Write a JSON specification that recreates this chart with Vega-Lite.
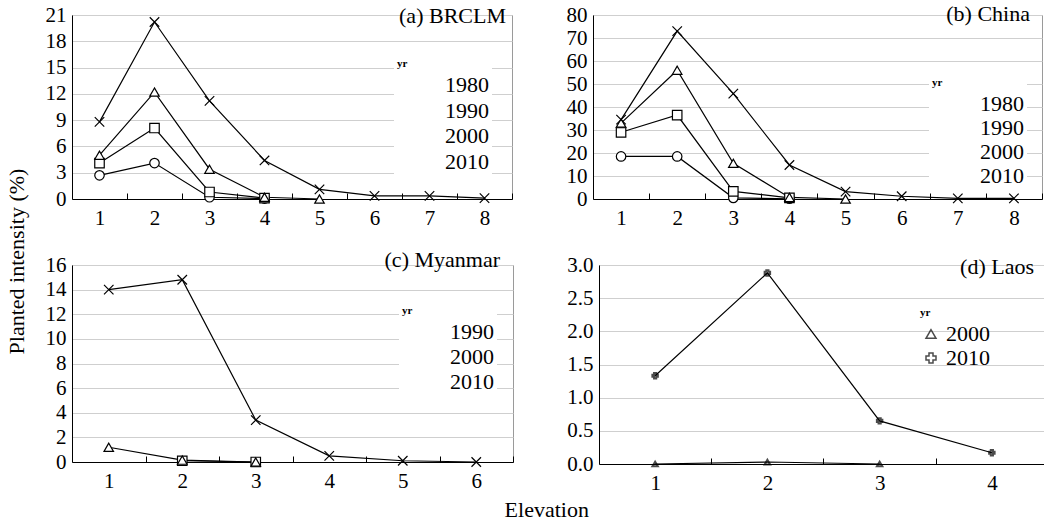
{
  "$schema": "https://vega.github.io/schema/vega-lite/v6.json",
  "padding": {"left": 5, "top": 2, "right": 2, "bottom": 2},
  "background": "white",
  "title": {"text": "Planted intensity (%)", "orient": "left", "anchor": "middle", "offset": 16},
  "data": {"values": [
    {"p": "a", "yr": "1980", "e": 1, "v": 2.7}, {"p": "a", "yr": "1980", "e": 2, "v": 4.1}, {"p": "a", "yr": "1980", "e": 3, "v": 0.2}, {"p": "a", "yr": "1980", "e": 4, "v": 0.05},
    {"p": "a", "yr": "1990", "e": 1, "v": 4.1}, {"p": "a", "yr": "1990", "e": 2, "v": 8.1}, {"p": "a", "yr": "1990", "e": 3, "v": 0.8}, {"p": "a", "yr": "1990", "e": 4, "v": 0.1},
    {"p": "a", "yr": "2000", "e": 1, "v": 5.0}, {"p": "a", "yr": "2000", "e": 2, "v": 12.2}, {"p": "a", "yr": "2000", "e": 3, "v": 3.4}, {"p": "a", "yr": "2000", "e": 4, "v": 0.2}, {"p": "a", "yr": "2000", "e": 5, "v": 0.0},
    {"p": "a", "yr": "2010", "e": 1, "v": 8.8}, {"p": "a", "yr": "2010", "e": 2, "v": 20.2}, {"p": "a", "yr": "2010", "e": 3, "v": 11.2}, {"p": "a", "yr": "2010", "e": 4, "v": 4.4}, {"p": "a", "yr": "2010", "e": 5, "v": 1.1}, {"p": "a", "yr": "2010", "e": 6, "v": 0.35}, {"p": "a", "yr": "2010", "e": 7, "v": 0.35}, {"p": "a", "yr": "2010", "e": 8, "v": 0.1},
    {"p": "b", "yr": "1980", "e": 1, "v": 18.5}, {"p": "b", "yr": "1980", "e": 2, "v": 18.5}, {"p": "b", "yr": "1980", "e": 3, "v": 0.5}, {"p": "b", "yr": "1980", "e": 4, "v": 0.1},
    {"p": "b", "yr": "1990", "e": 1, "v": 29}, {"p": "b", "yr": "1990", "e": 2, "v": 36.5}, {"p": "b", "yr": "1990", "e": 3, "v": 3.3}, {"p": "b", "yr": "1990", "e": 4, "v": 0.5},
    {"p": "b", "yr": "2000", "e": 1, "v": 33}, {"p": "b", "yr": "2000", "e": 2, "v": 56}, {"p": "b", "yr": "2000", "e": 3, "v": 15.5}, {"p": "b", "yr": "2000", "e": 4, "v": 0.7}, {"p": "b", "yr": "2000", "e": 5, "v": 0},
    {"p": "b", "yr": "2010", "e": 1, "v": 34.5}, {"p": "b", "yr": "2010", "e": 2, "v": 73}, {"p": "b", "yr": "2010", "e": 3, "v": 45.8}, {"p": "b", "yr": "2010", "e": 4, "v": 14.8}, {"p": "b", "yr": "2010", "e": 5, "v": 3.2}, {"p": "b", "yr": "2010", "e": 6, "v": 1.2}, {"p": "b", "yr": "2010", "e": 7, "v": 0.3}, {"p": "b", "yr": "2010", "e": 8, "v": 0.3},
    {"p": "c", "yr": "1990", "e": 2, "v": 0.1}, {"p": "c", "yr": "1990", "e": 3, "v": 0.0},
    {"p": "c", "yr": "2000", "e": 1, "v": 1.2}, {"p": "c", "yr": "2000", "e": 2, "v": 0.15}, {"p": "c", "yr": "2000", "e": 3, "v": 0.0},
    {"p": "c", "yr": "2010", "e": 1, "v": 14.0}, {"p": "c", "yr": "2010", "e": 2, "v": 14.8}, {"p": "c", "yr": "2010", "e": 3, "v": 3.4}, {"p": "c", "yr": "2010", "e": 4, "v": 0.5}, {"p": "c", "yr": "2010", "e": 5, "v": 0.1}, {"p": "c", "yr": "2010", "e": 6, "v": 0.0},
    {"p": "d", "yr": "2000", "e": 1, "v": 0.0}, {"p": "d", "yr": "2000", "e": 2, "v": 0.03}, {"p": "d", "yr": "2000", "e": 3, "v": 0.0},
    {"p": "d", "yr": "2010", "e": 1, "v": 1.33}, {"p": "d", "yr": "2010", "e": 2, "v": 2.88}, {"p": "d", "yr": "2010", "e": 3, "v": 0.65}, {"p": "d", "yr": "2010", "e": 4, "v": 0.17}
  ]},
  "spacing": 19,
  "resolve": {"scale": {"x": "independent", "y": "independent", "shape": "independent"}, "legend": {"shape": "independent"}},
  "vconcat": [
    {
      "spacing": 52,
      "resolve": {"scale": {"x": "independent", "y": "independent", "shape": "independent"}, "legend": {"shape": "independent"}},
      "hconcat": [
        {
          "width": 440, "height": 184,
          "title": {"text": "(a) BRCLM", "anchor": "end", "frame": "group", "offset": -24, "dx": -6},
          "transform": [{"filter": "datum.p == 'a'"}],
          "encoding": {
            "x": {"field": "e", "type": "quantitative", "scale": {"domain": [0.5, 8.5], "nice": false}, "axis": {"values": [1, 2, 3, 4, 5, 6, 7, 8], "tickOffset": 27.5, "labelOffset": -27.5}},
            "y": {"field": "v", "type": "quantitative", "scale": {"domain": [0, 21], "nice": false}, "axis": {"values": [0, 3, 6, 9, 12, 15, 18, 21]}}
          },
          "layer": [
            {"mark": {"type": "line", "color": "black", "strokeWidth": 1.2},
             "encoding": {"detail": {"field": "yr"}, "order": {"field": "e"}}},
            {"mark": {"type": "point", "filled": false, "fill": "white", "fillOpacity": 1, "stroke": "black", "strokeWidth": 1.2, "size": 90, "opacity": 1},
             "encoding": {
               "shape": {"field": "yr", "type": "nominal", "scale": {"domain": ["1980", "1990", "2000", "2010"], "range": ["circle", "square", "triangle-up", "M-1,-1L1,1M-1,1L1,-1"]},
                 "legend": {"orient": "none", "legendX": 322, "legendY": 40, "rowPadding": 3.5, "symbolSize": 100, "symbolOffset": 16, "labelOffset": 10, "padding": 3, "fillColor": "white", "symbolStrokeWidth": 1.2, "symbolStrokeColor": "black", "symbolFillColor": "white",
                   "encode": {"symbols": {"stroke": {"value": "black"}, "size": {"value": 100}}}}}}}
          ]
        },
        {
          "width": 449, "height": 184,
          "title": {"text": "(b) China", "anchor": "end", "frame": "group", "offset": -22, "dx": -12},
          "transform": [{"filter": "datum.p == 'b'"}],
          "encoding": {
            "x": {"field": "e", "type": "quantitative", "scale": {"domain": [0.5, 8.5], "nice": false}, "axis": {"values": [1, 2, 3, 4, 5, 6, 7, 8], "tickOffset": 28.06, "labelOffset": -28.06}},
            "y": {"field": "v", "type": "quantitative", "scale": {"domain": [0, 80], "nice": false}, "axis": {"values": [0, 10, 20, 30, 40, 50, 60, 70, 80]}}
          },
          "layer": [
            {"mark": {"type": "line", "color": "black", "strokeWidth": 1.2},
             "encoding": {"detail": {"field": "yr"}, "order": {"field": "e"}}},
            {"mark": {"type": "point", "filled": false, "fill": "white", "fillOpacity": 1, "stroke": "black", "strokeWidth": 1.2, "size": 90, "opacity": 1},
             "encoding": {
               "shape": {"field": "yr", "type": "nominal", "scale": {"domain": ["1980", "1990", "2000", "2010"], "range": ["circle", "square", "triangle-up", "M-1,-1L1,1M-1,1L1,-1"]},
                 "legend": {"orient": "none", "legendX": 336, "legendY": 59, "rowPadding": 2, "symbolSize": 100, "symbolOffset": 16, "labelOffset": 10, "padding": 3, "fillColor": "white", "symbolStrokeWidth": 1.2, "symbolStrokeColor": "black", "symbolFillColor": "white",
                   "encode": {"symbols": {"shape": {"value": "M-4,0H-0.75M0.75,0H4M-0.75,-0.75H0.75V0.75H-0.75Z"}}}}}}}
          ]
        }
      ]
    },
    {
      "spacing": 52,
      "title": {"text": "Elevation", "orient": "bottom", "anchor": "middle", "offset": 6},
      "resolve": {"scale": {"x": "independent", "y": "independent", "shape": "independent"}, "legend": {"shape": "independent"}},
      "hconcat": [
        {
          "width": 441, "height": 197,
          "title": {"text": "(c) Myanmar", "anchor": "end", "frame": "group", "offset": -18, "dx": -13},
          "transform": [{"filter": "datum.p == 'c'"}],
          "encoding": {
            "x": {"field": "e", "type": "quantitative", "scale": {"domain": [0.5, 6.5], "nice": false}, "axis": {"values": [1, 2, 3, 4, 5, 6], "tickOffset": 36.75, "labelOffset": -36.75}},
            "y": {"field": "v", "type": "quantitative", "scale": {"domain": [0, 16], "nice": false}, "axis": {"values": [0, 2, 4, 6, 8, 10, 12, 14, 16]}}
          },
          "layer": [
            {"mark": {"type": "line", "color": "black", "strokeWidth": 1.2},
             "encoding": {"detail": {"field": "yr"}, "order": {"field": "e"}}},
            {"mark": {"type": "point", "filled": false, "fill": "white", "fillOpacity": 1, "stroke": "black", "strokeWidth": 1.2, "size": 90, "opacity": 1},
             "encoding": {
               "shape": {"field": "yr", "type": "nominal", "scale": {"domain": ["1990", "2000", "2010"], "range": ["square", "triangle-up", "M-1,-1L1,1M-1,1L1,-1"]},
                 "legend": {"orient": "none", "legendX": 327, "legendY": 37, "rowPadding": 3, "symbolSize": 100, "symbolOffset": 16, "labelOffset": 10, "padding": 3, "fillColor": "white", "symbolStrokeWidth": 1.2, "symbolStrokeColor": "black", "symbolFillColor": "white",
                   "encode": {"symbols": {"shape": {"signal": "datum.value === '1990' ? 'M-4,0H-0.75M0.75,0H4M-0.75,-0.75H0.75V0.75H-0.75Z' : datum.value === '2000' ? 'M-4,0.1H-0.6M0.6,0.1H4M0,-0.85L0.95,0.75H-0.95Z' : 'M-4,0H-1.9M-1.1,-1.1L1.1,1.1M-1.1,1.1L1.1,-1.1M1.9,0H4'"}}}}}}}
          ]
        },
        {
          "width": 449, "height": 199,
          "title": {"text": "(d) Laos", "anchor": "end", "frame": "group", "offset": -25, "dx": -14},
          "transform": [{"filter": "datum.p == 'd'"}],
          "encoding": {
            "x": {"field": "e", "type": "quantitative", "scale": {"domain": [0.5, 4.5], "nice": false}, "axis": {"values": [1, 2, 3, 4], "tickOffset": 56.1, "labelOffset": -56.1}},
            "y": {"field": "v", "type": "quantitative", "scale": {"domain": [0, 3], "nice": false}, "axis": {"values": [0, 0.5, 1, 1.5, 2, 2.5, 3], "format": ".1f"}}
          },
          "layer": [
            {"mark": {"type": "line", "color": "black", "strokeWidth": 1.2},
             "encoding": {"detail": {"field": "yr"}, "order": {"field": "e"}}},
            {"mark": {"type": "point", "filled": false, "color": "black"},
             "encoding": {
               "shape": {"field": "yr", "type": "nominal", "scale": {"domain": ["2000", "2010"], "range": ["triangle-up", "cross"]},
                 "legend": {"orient": "none", "legendX": 321, "legendY": 42}}}}
          ]
        }
      ]
    }
  ],
  "config": {
    "font": "Liberation Serif",
    "view": {"stroke": "#9a9a9a", "strokeWidth": 1},
    "title": {"font": "Liberation Serif", "fontSize": 22, "fontWeight": "normal", "color": "black"},
    "axis": {"labelFont": "Liberation Serif", "labelFontSize": 21, "labelColor": "black", "domainColor": "black", "domainWidth": 1, "title": null, "labelAngle": 0, "labelOverlap": false},
    "axisX": {"grid": false, "tickSize": -6, "tickColor": "black", "labelPadding": 14, "labelFlush": false, "format": "d"},
    "axisY": {"grid": true, "gridColor": "#cfcfcf", "ticks": false, "labelPadding": 6},
    "legend": {"labelFont": "Liberation Serif", "labelFontSize": 22, "labelColor": "black"}
  }
}
